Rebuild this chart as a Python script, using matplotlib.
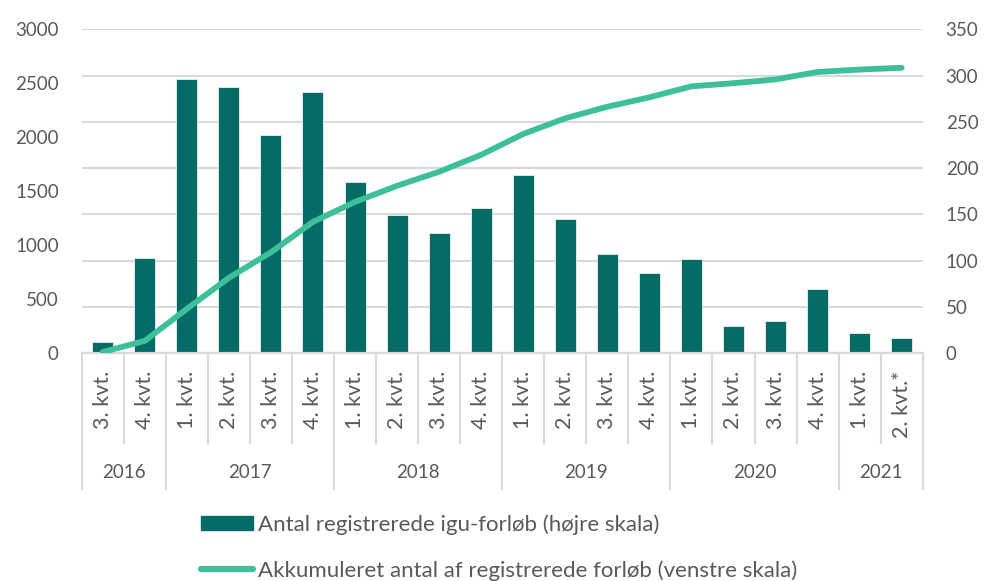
import numpy as np
import matplotlib
matplotlib.use("Agg")
import matplotlib.pyplot as plt
from matplotlib.patches import Patch
from matplotlib.lines import Line2D

plt.rcParams['font.family'] = ['Lato', 'DejaVu Sans']

# Data
quarters = ["3. kvt.", "4. kvt.",
            "1. kvt.", "2. kvt.", "3. kvt.", "4. kvt.",
            "1. kvt.", "2. kvt.", "3. kvt.", "4. kvt.",
            "1. kvt.", "2. kvt.", "3. kvt.", "4. kvt.",
            "1. kvt.", "2. kvt.", "3. kvt.", "4. kvt.",
            "1. kvt.", "2. kvt.*"]
years = ["2016", "2017", "2018", "2019", "2020", "2021"]
year_sizes = [2, 4, 4, 4, 4, 2]
registered = [12, 103, 296, 288, 236, 282, 185, 149, 130, 157,
              193, 145, 107, 87, 102, 29, 35, 69, 22, 17]
accumulated = [12, 115, 411, 699, 935, 1217, 1402, 1551, 1681, 1838,
               2031, 2176, 2283, 2370, 2472, 2501, 2536, 2605, 2627, 2644]

bar_color = "#066b64"
line_color = "#3dbf9a"
text_color = "#595959"
grid_color = "#d9d9d9"

W, H = 984, 581
fig = plt.figure(figsize=(W / 100, H / 100), dpi=100)
x0, x1, y0, y1 = 81.7, 922.7, 29.3, 353.3
ax = fig.add_axes([x0 / W, 1 - y1 / H, (x1 - x0) / W, (y1 - y0) / H])
ax2 = ax.twinx()

x = np.arange(len(quarters))

# bars on right scale
ax2.bar(x, registered, width=0.5, color=bar_color, edgecolor="#e8f2f1",
        linewidth=0.6, zorder=2)
ax2.set_ylim(0, 350)
ax2.set_yticks(np.arange(0, 351, 50))
ax2.yaxis.grid(True, color=grid_color, linewidth=1.5, zorder=0)
ax2.set_axisbelow(True)

# line on left scale
ax.plot(x, accumulated, color=line_color, linewidth=4.2,
        solid_capstyle="round", zorder=3)
ax.set_ylim(0, 3000)
ax.set_yticks(np.arange(0, 3001, 500))
ax.set_zorder(ax2.get_zorder() + 1)
ax.patch.set_visible(False)

ax.set_xlim(-0.5, len(quarters) - 0.5)

for a in (ax, ax2):
    for s in ("top", "left", "right"):
        a.spines[s].set_visible(False)
    a.spines["bottom"].set_color(grid_color)
    a.spines["bottom"].set_linewidth(1.5)
    a.tick_params(axis="y", length=0, labelsize=13.5, labelcolor=text_color, pad=16.5)

ax.set_xticks(x)
ax.set_xticklabels(quarters, rotation=90, fontsize=15.5, color=text_color)
ax.tick_params(axis="x", length=0, pad=12.5)
ax2.tick_params(axis="x", length=0, labelbottom=False)

# category separators
ax_h = y1 - y0
q_bottom = -(442.7 - y1) / ax_h
y_bottom = -(489 - y1) / ax_h
year_label_y = -(473 - y1) / ax_h
trans = ax.get_xaxis_transform()
bounds = np.cumsum([0] + year_sizes) - 0.5
for b in np.arange(-0.5, len(quarters), 1.0):
    bottom = y_bottom if np.any(np.isclose(bounds, b)) else q_bottom
    ax.add_line(Line2D([b, b], [0, bottom], transform=trans, color=grid_color,
                       linewidth=1.5, clip_on=False))
for i, yr in enumerate(years):
    center = (bounds[i] + bounds[i + 1]) / 2
    ax.text(center, year_label_y, yr, transform=trans, ha="center", va="center",
            fontsize=13.5, color=text_color)

# legend
handles = [Patch(facecolor=bar_color, edgecolor=bar_color),
           Line2D([0], [0], color=line_color, linewidth=4.5, solid_capstyle="round")]
labels = ["Antal registrerede igu-forløb (højre skala)",
          "Akkumuleret antal af registrerede forløb (venstre skala)"]
leg = fig.legend(handles, labels, loc="upper left",
                 bbox_to_anchor=(200.5 / W, 1 - 514 / H), frameon=False,
                 fontsize=16, handlelength=2.34, handleheight=0.6,
                 handletextpad=0.24, labelspacing=1.15, borderpad=0,
                 borderaxespad=0)
for t in leg.get_texts():
    t.set_color(text_color)

fig.savefig("out.png", dpi=100)
